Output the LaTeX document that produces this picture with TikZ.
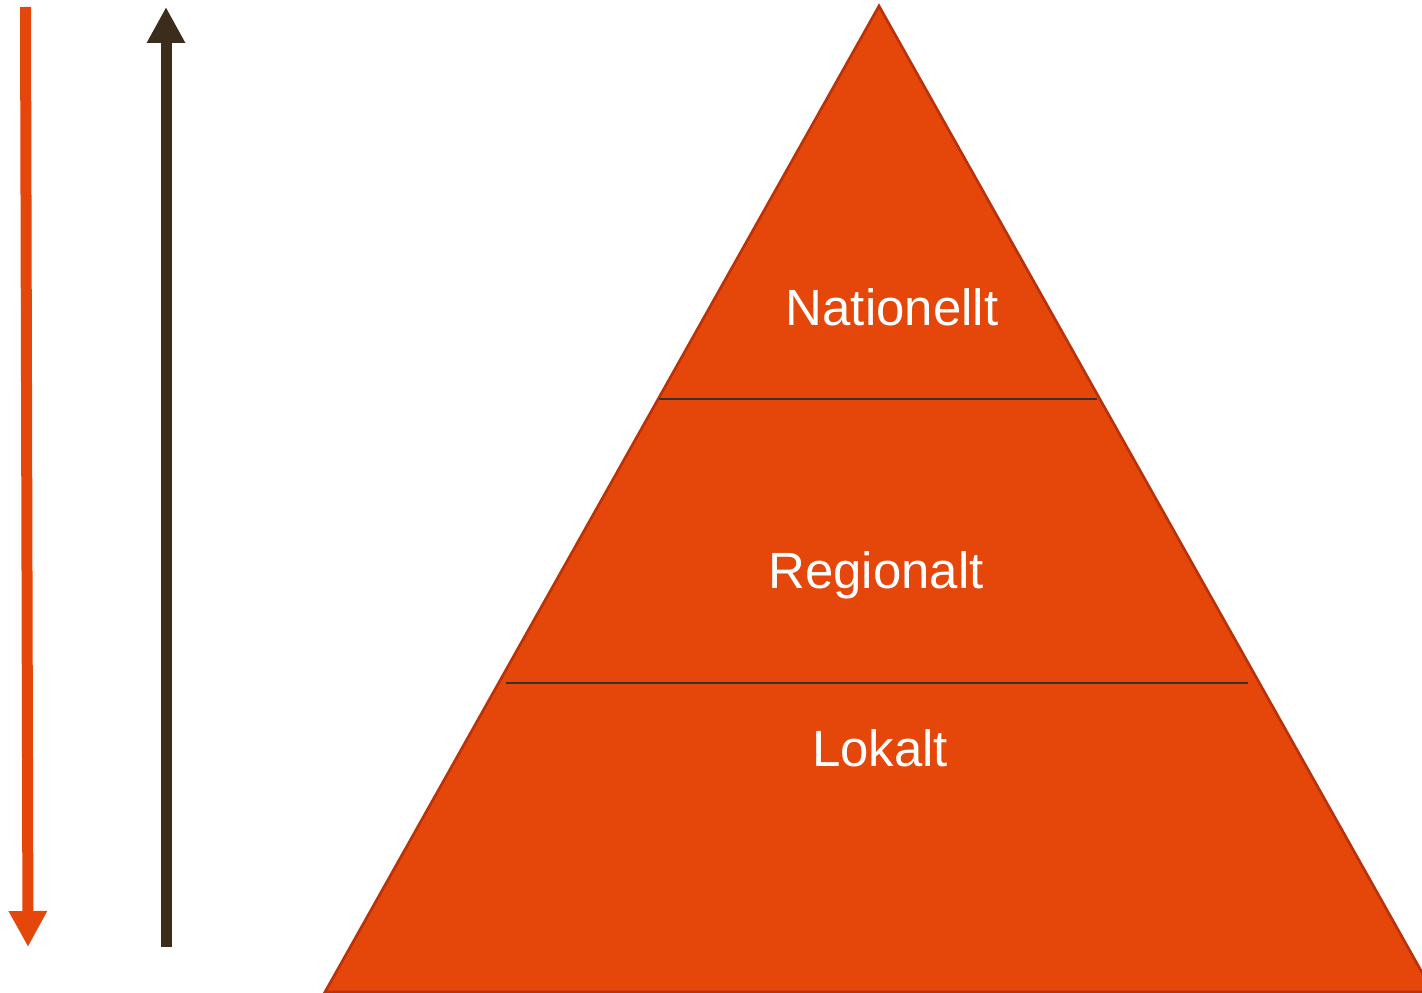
\documentclass[tikz,border=0pt]{standalone}
\usepackage{fontspec}
\setmainfont{Liberation Sans}
\usetikzlibrary{arrows.meta,positioning}
\definecolor{pyrorange}{RGB}{229,70,10}
\definecolor{pyredge}{RGB}{185,50,10}
\definecolor{pyrbrown}{RGB}{59,44,28}
\tikzstyle{levelarrow} = [line width=0.22cm,-{Triangle[length=0.72cm,width=0.72cm]}]
\tikzstyle{levellabel} = [text=white, font=\fontsize{29}{33}\selectfont]

\begin{document}
\begin{tikzpicture}[x=0.02cm,y=-0.02cm]
\clip (0,0) rectangle (1422,993);
% Arrows
\coordinate (otop) at (25.5,7);
\coordinate (obot) at (28,947);
\coordinate (btop) at (166,7);
\coordinate (bbot) at (166,947);
\draw[levelarrow, pyrorange] (otop) -- (obot);
\draw[levelarrow, pyrbrown] (bbot) -- (btop);

% Pyramid
\coordinate (apex) at (879,6);
\coordinate (left) at (325,992);
\coordinate (right) at (1433,992);
\draw[fill=pyrorange, draw=pyredge, line width=1.5pt] (apex) -- (left) -- (right) -- cycle;

% Dividers
\coordinate (d1l) at (659,399);
\coordinate (d1r) at (1097,399);
\coordinate (d2l) at (506,683);
\coordinate (d2r) at (1248,683);
\draw[black!80, line width=0.6pt] (d1l) -- (d1r);
\draw[black!80, line width=0.6pt] (d2l) -- (d2r);

% Labels
\node[levellabel] (nat) at (892,307) {Nationellt};
\node[levellabel] (reg) at (876,575) {Regionalt};
\node[levellabel] (lok) at (880,748) {Lokalt};
\end{tikzpicture}
\end{document}
